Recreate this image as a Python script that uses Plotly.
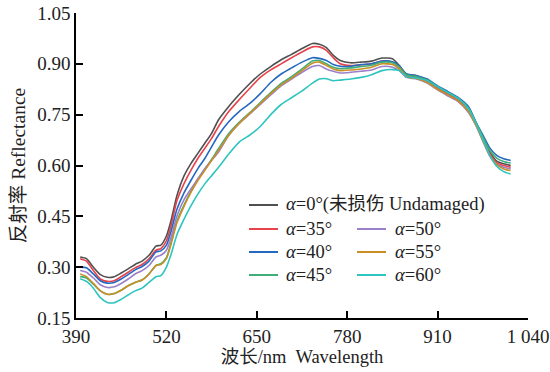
import plotly.graph_objects as go

wavelength = [396, 405, 415, 425, 435, 445, 455, 465, 475, 485, 495, 505, 512, 520, 527, 535, 545,
              555, 565, 575, 585, 595, 610, 625, 640, 655, 670, 685, 700, 715, 730, 740, 750, 760,
              770, 785, 800, 815, 830, 845, 855, 865, 880, 895, 910, 925, 940, 955, 965, 975, 985,
              995, 1005, 1015]

r_0 = [0.330, 0.325, 0.300, 0.278, 0.270, 0.272, 0.283, 0.295, 0.308, 0.318, 0.335, 0.362, 0.365,
       0.392, 0.440, 0.510, 0.568, 0.605, 0.635, 0.665, 0.695, 0.735, 0.775, 0.810, 0.842, 0.870,
       0.892, 0.912, 0.928, 0.945, 0.960, 0.958, 0.948, 0.925, 0.910, 0.903, 0.905, 0.908, 0.917,
       0.915, 0.895, 0.870, 0.865, 0.850, 0.830, 0.812, 0.798, 0.765, 0.727, 0.683, 0.640, 0.613,
       0.605, 0.600]
r_35 = [0.325, 0.318, 0.290, 0.265, 0.258, 0.260, 0.272, 0.285, 0.298, 0.308, 0.325, 0.350, 0.355,
        0.378, 0.425, 0.495, 0.545, 0.585, 0.620, 0.650, 0.680, 0.715, 0.760, 0.795, 0.828, 0.860,
        0.882, 0.900, 0.918, 0.935, 0.950, 0.950, 0.940, 0.918, 0.900, 0.895, 0.897, 0.900, 0.908,
        0.905, 0.890, 0.865, 0.860, 0.848, 0.828, 0.810, 0.793, 0.762, 0.725, 0.680, 0.635, 0.608,
        0.600, 0.595]
r_40 = [0.300, 0.298, 0.280, 0.260, 0.253, 0.255, 0.265, 0.278, 0.292, 0.302, 0.318, 0.345, 0.348,
        0.365, 0.408, 0.470, 0.518, 0.555, 0.590, 0.620, 0.655, 0.690, 0.730, 0.760, 0.783, 0.812,
        0.845, 0.870, 0.888, 0.905, 0.918, 0.916, 0.910, 0.898, 0.893, 0.893, 0.898, 0.900, 0.908,
        0.906, 0.893, 0.870, 0.865, 0.855, 0.835, 0.818, 0.800, 0.772, 0.728, 0.690, 0.652, 0.630,
        0.620, 0.615]
r_45 = [0.272, 0.268, 0.250, 0.230, 0.220, 0.222, 0.232, 0.245, 0.255, 0.262, 0.280, 0.305, 0.310,
        0.328, 0.375, 0.435, 0.482, 0.522, 0.558, 0.588, 0.618, 0.650, 0.695, 0.728, 0.756, 0.786,
        0.815, 0.842, 0.862, 0.885, 0.908, 0.910, 0.900, 0.890, 0.886, 0.888, 0.892, 0.896, 0.905,
        0.903, 0.890, 0.868, 0.862, 0.852, 0.833, 0.815, 0.798, 0.768, 0.728, 0.685, 0.645, 0.622,
        0.612, 0.607]
r_50 = [0.290, 0.285, 0.268, 0.248, 0.240, 0.242, 0.252, 0.265, 0.280, 0.290, 0.305, 0.330, 0.335,
        0.350, 0.390, 0.450, 0.498, 0.530, 0.560, 0.590, 0.615, 0.640, 0.690, 0.725, 0.752, 0.780,
        0.808, 0.835, 0.855, 0.875, 0.892, 0.895, 0.885, 0.878, 0.873, 0.875, 0.878, 0.882, 0.892,
        0.890, 0.880, 0.860, 0.855, 0.843, 0.823, 0.805, 0.788, 0.755, 0.718, 0.672, 0.628, 0.603,
        0.595, 0.590]
r_55 = [0.280, 0.272, 0.252, 0.230, 0.220, 0.222, 0.232, 0.245, 0.255, 0.262, 0.280, 0.305, 0.308,
        0.325, 0.370, 0.430, 0.478, 0.520, 0.555, 0.585, 0.615, 0.645, 0.690, 0.725, 0.754, 0.783,
        0.812, 0.838, 0.858, 0.880, 0.902, 0.905, 0.895, 0.885, 0.880, 0.882, 0.885, 0.890, 0.900,
        0.898, 0.885, 0.862, 0.857, 0.845, 0.825, 0.808, 0.790, 0.758, 0.720, 0.675, 0.630, 0.603,
        0.590, 0.585]
r_60 = [0.266, 0.258, 0.238, 0.210, 0.196, 0.195, 0.205, 0.218, 0.230, 0.238, 0.255, 0.272, 0.275,
        0.300, 0.340, 0.395, 0.440, 0.480, 0.515, 0.545, 0.570, 0.595, 0.635, 0.670, 0.690, 0.715,
        0.750, 0.780, 0.800, 0.820, 0.843, 0.855, 0.856, 0.850, 0.852, 0.855, 0.860, 0.868, 0.880,
        0.883, 0.880, 0.862, 0.858, 0.850, 0.832, 0.815, 0.797, 0.765, 0.725, 0.678, 0.630, 0.598,
        0.582, 0.575]

x_ticks = [390, 520, 650, 780, 910, 1040]
x_ticktext = ["390", "520", "650", "780", "910", "1 040"]
y_ticks = [0.15, 0.30, 0.45, 0.60, 0.75, 0.90, 1.05]
y_ticktext = ["0.15", "0.30", "0.45", "0.60", "0.75", "0.90", "1.05"]

names = ["<i>α</i>=0°(未损伤 Undamaged)", "<i>α</i>=35°", "<i>α</i>=40°", "<i>α</i>=45°",
         "<i>α</i>=50°", "<i>α</i>=55°", "<i>α</i>=60°"]
values = [r_0, r_35, r_40, r_45, r_50, r_55, r_60]
colors = ["#505050", "#e8424a", "#2468c0", "#3fae78", "#9a80c8", "#c98f25", "#2ec4c0"]
# legend slot (column, row) for each series
slots = [(0, 0), (0, 1), (0, 2), (0, 3), (1, 1), (1, 2), (1, 3)]

SERIF = "Liberation Serif, Times New Roman, serif"
MIXED = "Liberation Serif, Noto Sans CJK SC"

fig = go.Figure()
for name, vals, color in zip(names, values, colors):
    fig.add_trace(go.Scatter(x=wavelength, y=vals, mode="lines", name=name,
                             line=dict(color=color, width=1.6, shape="spline", smoothing=0.6),
                             showlegend=False))

# manual legend (pixel layout converted to paper coords)
L, T, W, H = 76, 13, 452, 305
def px(xp):
    return (xp - L) / W
def py(yp):
    return (T + H - yp) / H

col_line = [(249, 278), (357, 386)]
col_text = [284, 393]
row_y = [205, 229, 252, 275]
for name, color, (c, r) in zip(names, colors, slots):
    fig.add_shape(type="line", xref="paper", yref="paper",
                  x0=px(col_line[c][0]), x1=px(col_line[c][1]), y0=py(row_y[r]), y1=py(row_y[r]),
                  line=dict(color=color, width=2))
    fig.add_annotation(xref="paper", yref="paper", x=px(col_text[c]), y=py(row_y[r]),
                       xanchor="left", yanchor="middle", showarrow=False, text=name,
                       font=dict(family=MIXED, size=18.5, color="#222"))

fig.update_layout(
    width=550, height=372,
    margin=dict(l=L, r=550 - L - W, t=T, b=372 - T - H),
    paper_bgcolor="white", plot_bgcolor="white",
    font=dict(family=MIXED, size=17, color="#222"),
    showlegend=False,
    xaxis=dict(range=[390, 1040], tickvals=x_ticks, ticktext=x_ticktext, automargin=False,
               ticks="inside", ticklen=7, tickwidth=1.5, tickcolor="black",
               showline=True, linecolor="black", linewidth=1.5, showgrid=False, zeroline=False,
               title=dict(text="波长/nm  Wavelength", font=dict(family=MIXED, size=18.5), standoff=5),
               tickfont=dict(family=SERIF, size=19)),
    yaxis=dict(range=[0.15, 1.05], tickvals=y_ticks, ticktext=y_ticktext, automargin=False,
               ticks="inside", ticklen=7, tickwidth=1.5, tickcolor="black",
               showline=True, linecolor="black", linewidth=1.5, showgrid=False, zeroline=False,
               title=dict(text="反射率 Reflectance", font=dict(family=MIXED, size=19.5), standoff=6),
               tickfont=dict(family=SERIF, size=19)),
)

fig.write_html("out.html")
